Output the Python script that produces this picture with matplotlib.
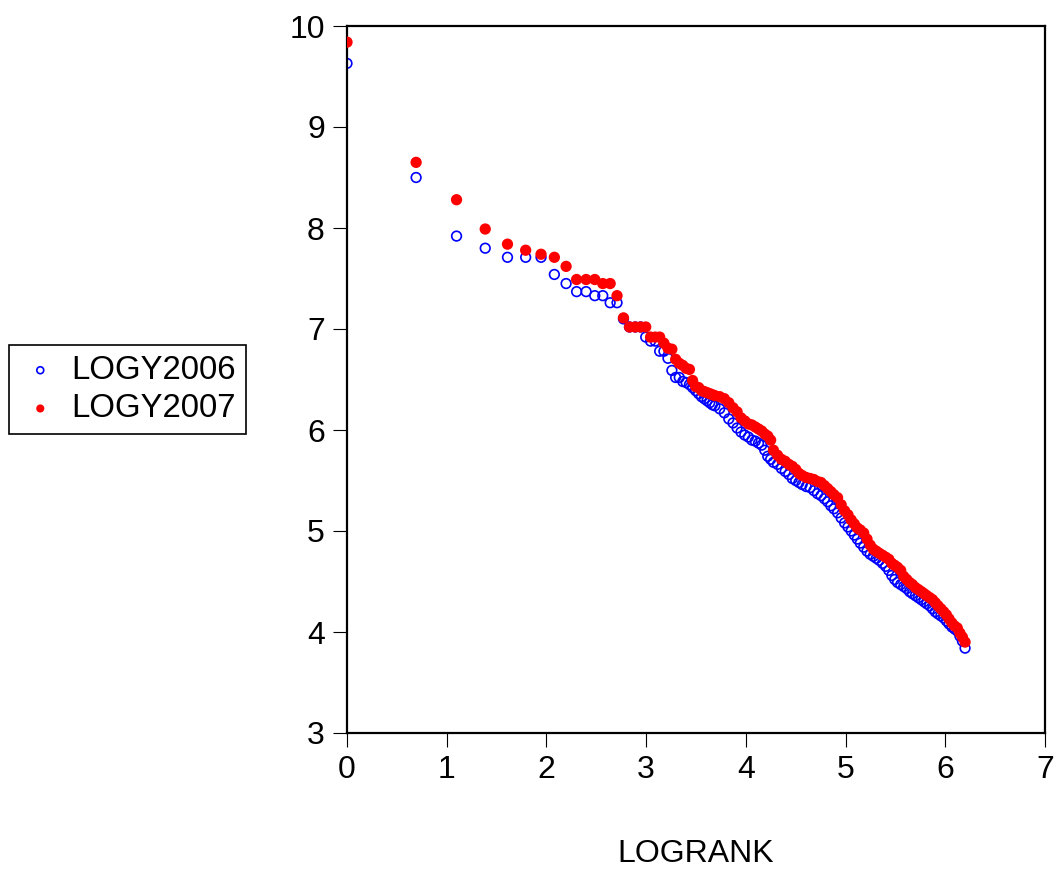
import numpy as np
import matplotlib
matplotlib.use('Agg')
import matplotlib.pyplot as plt

plt.rcParams['font.family'] = ['Liberation Sans', 'DejaVu Sans']

# rank of each observation (LOGRANK = log of rank)
rank = [1, 2, 3, 4, 5, 6, 7, 8, 9, 10, 11, 12, 13, 14, 15, 16, 17, 18, 19, 20,
        21, 22, 23, 24, 25, 26, 27, 28, 29, 30, 31, 32, 33, 34, 35, 36, 37, 38, 39, 40,
        42, 44, 46, 48, 50, 52, 54, 56, 58, 60, 62, 64, 66, 68, 70, 72,
        75, 78, 81, 84, 87, 90, 93, 96, 100, 104, 108, 112, 116, 120, 124, 128, 132,
        137, 142, 147, 152, 157, 162, 167, 172, 178, 184, 190, 196, 202, 208,
        215, 222, 229, 236, 243, 250, 258, 266, 274, 282, 290, 299, 308, 317, 326, 335,
        345, 355, 365, 375, 386, 397, 408, 419, 431, 443, 455, 467, 479, 492]

logy2006 = [9.63, 8.50, 7.92, 7.80, 7.71, 7.71, 7.71, 7.54, 7.45, 7.37, 7.37, 7.33, 7.33, 7.26, 7.26,
            7.10, 7.02, 7.02, 7.02, 6.92, 6.88, 6.88, 6.78, 6.78, 6.71, 6.59, 6.52, 6.52, 6.48, 6.47,
            6.45, 6.42, 6.39, 6.36, 6.33, 6.31, 6.29, 6.27, 6.25, 6.24,
            6.21, 6.17, 6.11, 6.07, 6.02, 5.98, 5.95, 5.93, 5.90, 5.89, 5.87, 5.85, 5.80, 5.74, 5.71, 5.68,
            5.66, 5.62, 5.59, 5.56, 5.52, 5.50, 5.48, 5.46, 5.44, 5.43, 5.40, 5.37, 5.35, 5.32, 5.29, 5.25, 5.22,
            5.18, 5.13, 5.08, 5.04, 5.00, 4.96, 4.92, 4.88, 4.84, 4.80, 4.77, 4.75, 4.73, 4.71,
            4.68, 4.65, 4.61, 4.56, 4.52, 4.49, 4.47, 4.45, 4.43, 4.40, 4.38, 4.36, 4.34, 4.32, 4.30, 4.28,
            4.26, 4.23, 4.20, 4.18, 4.16, 4.14, 4.11, 4.08, 4.05, 4.03, 4.01, 3.96, 3.91, 3.84]

logy2007 = [9.84, 8.65, 8.28, 7.99, 7.84, 7.78, 7.74, 7.71, 7.62, 7.49, 7.49, 7.49, 7.45, 7.45, 7.33,
            7.11, 7.02, 7.02, 7.02, 7.02, 6.92, 6.92, 6.92, 6.86, 6.81, 6.80, 6.70, 6.66, 6.64, 6.61,
            6.60, 6.49, 6.43, 6.42, 6.39, 6.38, 6.37, 6.36, 6.35, 6.34,
            6.33, 6.31, 6.27, 6.22, 6.18, 6.12, 6.09, 6.06, 6.05, 6.03, 6.01, 5.99, 5.96, 5.94, 5.90, 5.80,
            5.75, 5.71, 5.69, 5.66, 5.64, 5.61, 5.57, 5.55, 5.53, 5.52, 5.51, 5.49, 5.48, 5.45, 5.42, 5.39, 5.36,
            5.33, 5.26, 5.20, 5.16, 5.11, 5.07, 5.03, 5.01, 4.98, 4.92, 4.86, 4.82, 4.80, 4.78,
            4.76, 4.74, 4.72, 4.68, 4.66, 4.64, 4.61, 4.55, 4.52, 4.49, 4.47, 4.44, 4.42, 4.40, 4.38, 4.36,
            4.34, 4.32, 4.29, 4.26, 4.23, 4.20, 4.17, 4.13, 4.09, 4.06, 4.04, 3.99, 3.95, 3.90]

logrank = np.log(rank)

fig = plt.figure(figsize=(10.61, 8.77), dpi=100)
ax = fig.add_axes([347 / 1061, 1 - 733 / 877, 698 / 1061, 707 / 877])

ax.scatter(logrank, logy2006, s=48, facecolors='none', edgecolors='#0000FF',
           linewidths=1.2, label='LOGY2006', zorder=2)
ax.scatter(logrank, logy2007, s=66, color='#FF0000', edgecolors='none',
           label='LOGY2007', zorder=3)

ax.set_xlim(0, 7)
ax.set_ylim(3, 10)
ax.set_xticks(range(0, 8))
ax.set_yticks(range(3, 11))
ax.tick_params(direction='out', length=10, width=0.8, labelsize=23, pad=6,
               top=False, right=False)
for sp in ax.spines.values():
    sp.set_linewidth(1.6)

ax.set_xlabel('LOGRANK', fontsize=23, labelpad=39)

fig.legend(loc='upper left', bbox_to_anchor=(9 / 1061, 1 - 345 / 877),
           fontsize=23.7, frameon=True, fancybox=False, edgecolor='black',
           framealpha=1, borderpad=0.3, labelspacing=0.22, handlelength=1.3,
           handletextpad=0.3, borderaxespad=0, markerscale=0.72)
fig.legends[0].get_frame().set_linewidth(1.2)

fig.savefig('out.png', dpi=100)
